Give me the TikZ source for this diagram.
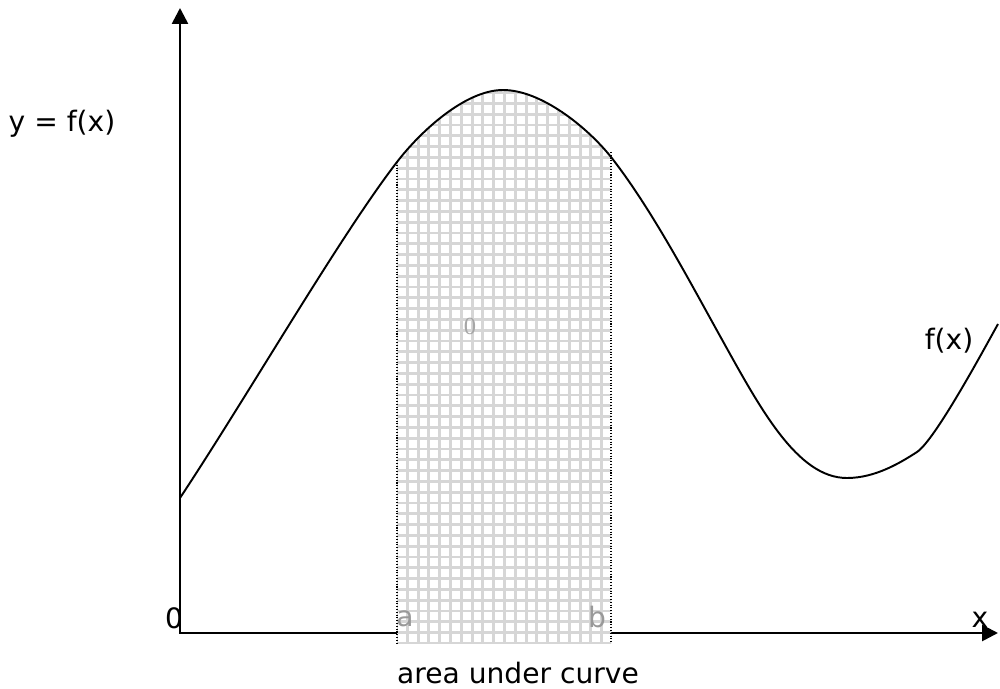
\documentclass[tikz,border=0pt]{standalone}
\usepackage{fontspec}
\setmainfont{DejaVu Sans}
\newfontfamily\smallserif{Liberation Serif}
\usetikzlibrary{arrows.meta}

\newcommand*{\xa}{397}
\newcommand*{\xb}{611}
\newcommand*{\ybase}{643}

\begin{document}
\begin{tikzpicture}
[
	x=0.02cm, y=-0.02cm,
	axisline/.style={line width=1.5pt,{Triangle[length=9pt,width=9pt]}-{Triangle[length=9pt,width=9pt]}},
	curveline/.style={line width=1.1pt},
	gridline/.style={gray!32,line width=1.7pt},
	edgeline/.style={densely dotted,line width=0.6pt},
	lbl/.style={font=\fontsize{16}{19}\selectfont,inner sep=0pt},
	greylbl/.style={lbl,text=gray!80}
]
	\useasboundingbox (0,0) rectangle (1000,689);

	% axes
	\coordinate (O) at (180,633);
	\coordinate (ytop) at (180,8);
	\coordinate (xend) at (998,633);
	\draw[axisline] (ytop) -- (O) -- (xend);

	% area under curve
	\begin{scope}
		\clip (\xa,0) rectangle (\xb,\ybase);
		\clip (180,700) -- (180,498) .. controls (250,392) and (340,236) .. (397,162)
			.. controls (420,132) and (465,90) .. (503,90)
			.. controls (541,90) and (587,127) .. (611,157)
			.. controls (651,208) and (690,282) .. (720,336) -- (720,700) -- cycle;
		\fill[white,opacity=0.55] (\xa,0) rectangle (\xb,\ybase);
		\foreach \k in {0,...,20} {
			\draw[gridline] (396.5+\k*10.8,80) -- (396.5+\k*10.8,650);
		}
		\foreach \k in {0,...,53} {
			\draw[gridline] (390,71+\k*10.8) -- (620,71+\k*10.8);
		}
	\end{scope}

	% graph
	\draw[curveline] (180,498) .. controls (250,392) and (340,236) .. (397,162)
		.. controls (420,132) and (465,90) .. (503,90)
		.. controls (541,90) and (587,127) .. (611,157)
		.. controls (651,208) and (690,282) .. (720,336)
		.. controls (760,408) and (797,478) .. (847,478)
		.. controls (875,478) and (900,463) .. (917,452)
		.. controls (935,440) and (983,351) .. (998,324);

	% bounds a and b
	\coordinate (atop) at (\xa,162);
	\coordinate (abot) at (\xa,\ybase);
	\coordinate (btop) at (\xb,152);
	\coordinate (bbot) at (\xb,\ybase);
	\draw[edgeline] (atop) -- (abot);
	\draw[edgeline] (btop) -- (bbot);

	% labels
	\node[lbl] (ylabel) at (62,124) {y = f(x)};
	\node[lbl] (flabel) at (949,341) {f(x)};
	\node[lbl] (origin) at (174,618) {0};
	\node[lbl] (xlabel) at (980,620) {x};
	\node[greylbl] (alabel) at (405,619) {a};
	\node[greylbl] (blabel) at (597,617) {b};
	\node[text=gray!70,inner sep=0pt,font=\smallserif\fontsize{14}{14}\selectfont] (zero) at (470,326) {0};
	\node[lbl] (caption) at (518,673) {area under curve};

\end{tikzpicture}
\end{document}
